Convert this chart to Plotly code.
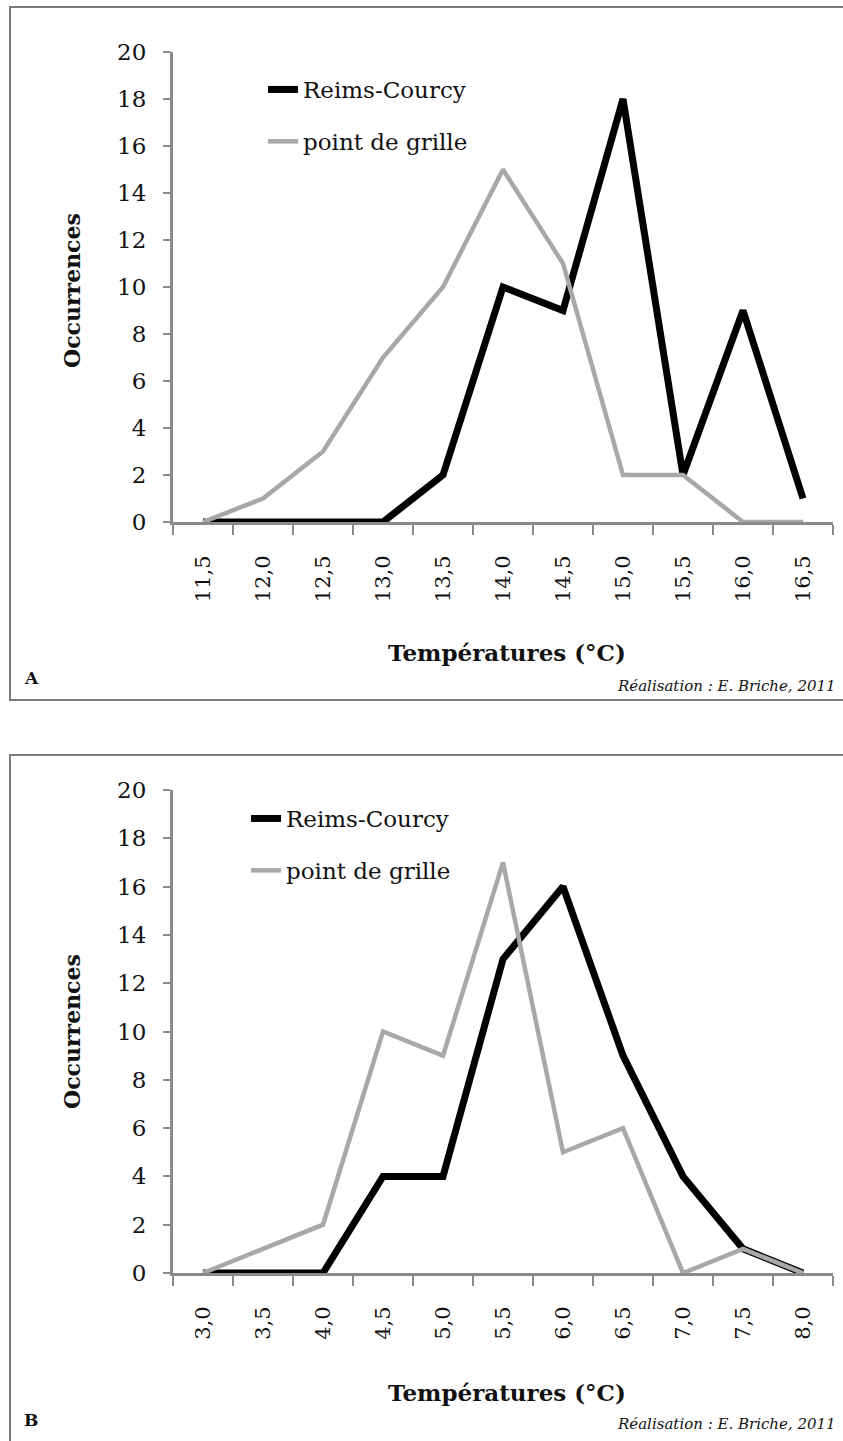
import plotly.graph_objects as go

W, H = 843, 1441

cats_a = ["11,5", "12,0", "12,5", "13,0", "13,5", "14,0", "14,5", "15,0", "15,5", "16,0", "16,5"]
reims_a = [0, 0, 0, 0, 2, 10, 9, 18, 2, 9, 1]
grille_a = [0, 1, 3, 7, 10, 15, 11, 2, 2, 0, 0]

cats_b = ["3,0", "3,5", "4,0", "4,5", "5,0", "5,5", "6,0", "6,5", "7,0", "7,5", "8,0"]
reims_b = [0, 0, 0, 4, 4, 13, 16, 9, 4, 1, 0]
grille_b = [0, 1, 2, 10, 9, 17, 5, 6, 0, 1, 0]

y_ticks = list(range(0, 21, 2))

FONT = "DejaVu Serif"
AXIS_GRAY = "#8a8a8a"
BLACK = "#000000"
GRAY = "#a8a8a8"


def px_x(x):
    return x / W


def px_y(y):
    return 1 - y / H


fig = go.Figure()

fig.add_trace(go.Scatter(x=cats_a, y=reims_a, mode="lines", name="Reims-Courcy",
                         line=dict(color=BLACK, width=7), xaxis="x", yaxis="y",
                         legend="legend", legendgroup="a1"))
fig.add_trace(go.Scatter(x=cats_a, y=grille_a, mode="lines", name="point de grille",
                         line=dict(color=GRAY, width=4.5), xaxis="x", yaxis="y",
                         legend="legend", legendgroup="a2"))
fig.add_trace(go.Scatter(x=cats_b, y=reims_b, mode="lines", name="Reims-Courcy",
                         line=dict(color=BLACK, width=7), xaxis="x2", yaxis="y2",
                         legend="legend2", legendgroup="b1"))
fig.add_trace(go.Scatter(x=cats_b, y=grille_b, mode="lines", name="point de grille",
                         line=dict(color=GRAY, width=4.5), xaxis="x2", yaxis="y2",
                         legend="legend2", legendgroup="b2"))

xdom = [px_x(173), px_x(833)]

common_x = dict(
    type="category", range=[-0.5, 10.5], tickson="boundaries",
    showline=True, linecolor=AXIS_GRAY, linewidth=3,
    ticks="outside", ticklen=10, tickwidth=2, tickcolor=AXIS_GRAY,
    tickangle=-90, tickfont=dict(family=FONT, size=21, color="#111"),
    showgrid=False, zeroline=False, ticklabelstandoff=22, fixedrange=True,
    automargin=False,
)
common_y = dict(
    range=[0, 20], tickvals=y_ticks, ticktext=[str(v) for v in y_ticks],
    showline=True, linecolor=AXIS_GRAY, linewidth=3,
    ticks="outside", ticklen=7, tickwidth=2, tickcolor=AXIS_GRAY,
    tickfont=dict(family=FONT, size=23, color="#111"),
    showgrid=False, zeroline=False, ticklabelstandoff=12, fixedrange=True,
    automargin=False,
)

fig.update_layout(
    width=W, height=H,
    margin=dict(l=0, r=0, t=0, b=0, pad=0, autoexpand=False),
    paper_bgcolor="white", plot_bgcolor="white",
    xaxis=dict(domain=xdom, anchor="y", **common_x),
    yaxis=dict(domain=[px_y(522), px_y(52)], anchor="x", **common_y),
    xaxis2=dict(domain=xdom, anchor="y2", **common_x),
    yaxis2=dict(domain=[px_y(1273), px_y(790)], anchor="x2", **common_y),
    legend=dict(x=px_x(263), y=px_y(68), xanchor="left", yanchor="top",
                font=dict(family=FONT, size=23, color="#111"),
                bgcolor="rgba(0,0,0,0)", tracegroupgap=19),
    legend2=dict(x=px_x(246), y=px_y(797), xanchor="left", yanchor="top",
                 font=dict(family=FONT, size=23, color="#111"),
                 bgcolor="rgba(0,0,0,0)", tracegroupgap=19),
    showlegend=True,
)

shapes = []
shapes.append(dict(type="rect", xref="paper", yref="paper",
                   x0=px_x(10), x1=px_x(846), y0=px_y(700), y1=px_y(7),
                   line=dict(color="#7a7a7a", width=2)))
shapes.append(dict(type="rect", xref="paper", yref="paper",
                   x0=px_x(10), x1=px_x(846), y0=px_y(1446), y1=px_y(755),
                   line=dict(color="#7a7a7a", width=2)))
fig.update_layout(shapes=shapes)

ann = []
for (ytitle_c, xtitle_y, label, label_y, credit_y) in [
    (291, 652, "A", 678, 686),
    (1032, 1392, "B", 1420, 1424),
]:
    ann.append(dict(text="<b>Occurrences</b>", x=px_x(72), y=px_y(ytitle_c), xref="paper", yref="paper",
                    textangle=-90, showarrow=False, xanchor="center", yanchor="middle",
                    font=dict(family=FONT, size=22, color="#111")))
    ann.append(dict(text="<b>Températures (°C)</b>", x=px_x(507), y=px_y(xtitle_y), xref="paper", yref="paper",
                    showarrow=False, xanchor="center", yanchor="middle",
                    font=dict(family=FONT, size=23, color="#111")))
    ann.append(dict(text="<b>" + label + "</b>", x=px_x(22), y=px_y(label_y), xref="paper", yref="paper",
                    showarrow=False, xanchor="left", yanchor="middle",
                    font=dict(family=FONT, size=17, color="#111")))
    ann.append(dict(text="<i>Réalisation : E. Briche, 2011</i>", x=px_x(838), y=px_y(credit_y), xref="paper", yref="paper",
                    showarrow=False, xanchor="right", yanchor="middle",
                    font=dict(family=FONT, size=15, color="#111")))
fig.update_layout(annotations=ann)

fig.write_html("out.html", config={"displayModeBar": False},
               post_script="document.body.style.margin='0px';document.body.style.overflow='hidden';")
